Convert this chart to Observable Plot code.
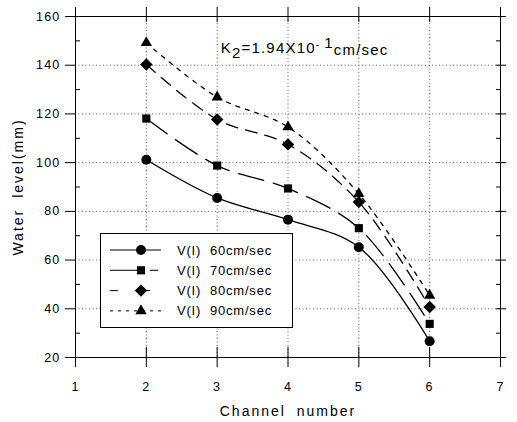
<!DOCTYPE html>
<html><head><meta charset="utf-8">
<script src="https://cdn.jsdelivr.net/npm/d3@7"></script>
<script src="https://cdn.jsdelivr.net/npm/@observablehq/plot@0.6"></script>
<style>
body{margin:0;background:#fff}
#wrap{position:relative;width:517px;height:422px;font-family:"Liberation Sans",Arial,sans-serif;color:#000}
#wrap svg text{letter-spacing:1.2px}
#legend{position:absolute;left:100px;top:233px;width:193px;height:95px;background:#fff;border:1px solid #000;box-sizing:border-box}
</style></head><body><div id="wrap"></div>
<script>
const channels = [2, 3, 4, 5, 6];
const v60 = [101.2, 85.5, 76.6, 65.3, 26.7];
const v70 = [118.1, 98.8, 89.4, 73.1, 33.8];
const v80 = [140.3, 117.7, 107.5, 83.8, 40.7];
const v90 = [149.2, 126.9, 114.6, 87.2, 45.5];
const seriesLabels = ["V(I)  60cm/sec", "V(I)  70cm/sec", "V(I)  80cm/sec", "V(I)  90cm/sec"];
const seriesValues = [v60, v70, v80, v90];
const seriesSymbols = ["circle", "square", "diamond2", "triangle"];
const seriesDash = [null, "26,10", "12,8", "4,6"];
const seriesR = [5, 4.6, 5.6, 4.2];
const xTicks = [1, 2, 3, 4, 5, 6, 7];
const yTicks = [20, 40, 60, 80, 100, 120, 140, 160];
const yMinor = [30, 50, 70, 90, 110, 130, 150];
const xGrid = [2, 3, 4, 5, 6];
const yGrid = [40, 60, 80, 100, 120, 140];
const annotation = "K2=1.94X10-1cm/sec";

const rows = [];
seriesLabels.forEach((s, i) => channels.forEach((c, j) => rows.push({series: s, channel: c, level: seriesValues[i][j]})));

const blank = () => "";
const marks = [
  Plot.ruleY(yGrid, {stroke: "#666", strokeDasharray: "1,2.5"}),
  Plot.ruleX(xGrid, {stroke: "#666", strokeDasharray: "1,2.5"}),
  Plot.frame({stroke: "#000"}),
  Plot.axisY({anchor: "left", ticks: yTicks, tickSize: 10, tickPadding: 5, fontSize: 12.5, tickFormat: d3.format("d"),
    label: "Water level(mm)", labelAnchor: "center", labelOffset: 62, labelArrow: "none"}),
  Plot.axisY({anchor: "left", ticks: yMinor, tickSize: -5, tickFormat: blank, label: null}),
  Plot.axisY({anchor: "right", ticks: yTicks, tickSize: 5, tickFormat: blank, label: null}),
  Plot.axisY({anchor: "right", ticks: yTicks, tickSize: -5, tickFormat: blank, label: null}),
  Plot.axisY({anchor: "right", ticks: yMinor, tickSize: -5, tickFormat: blank, label: null}),
  Plot.axisX({anchor: "bottom", ticks: xTicks, tickSize: 10, tickPadding: 15, fontSize: 12.5, tickFormat: d3.format("d"),
    label: "Channel number", labelAnchor: "center", labelOffset: 58, labelArrow: "none"}),
  Plot.axisX({anchor: "bottom", ticks: xTicks, tickSize: -10, tickFormat: blank, label: null}),
  Plot.axisX({anchor: "top", ticks: xTicks, tickSize: 10, tickFormat: blank, label: null}),
  Plot.axisX({anchor: "top", ticks: xTicks, tickSize: -5, tickFormat: blank, label: null}),
];
seriesLabels.forEach((s, i) => {
  const d = rows.filter(r => r.series === s);
  marks.push(Plot.line(d, {x: "channel", y: "level", curve: "catmull-rom", stroke: "#000", strokeWidth: 1.3,
    strokeDasharray: seriesDash[i] || undefined}));
  marks.push(Plot.dot(d, {x: "channel", y: "level", symbol: () => seriesSymbols[i], r: seriesR[i], fill: "#000", stroke: "none"}));
});
marks.push(Plot.text([annotation], {x: 3.05, y: 147, text: d => d, textAnchor: "start", fontSize: 15, className: "kann"}));

const chart = Plot.plot({
  width: 517, height: 422,
  marginLeft: 75, marginRight: 17, marginTop: 16, marginBottom: 65,
  x: {domain: [1, 7]},
  y: {domain: [20, 160]},
  style: {fontFamily: '"Liberation Sans", Arial, sans-serif', fontSize: "12.5px", color: "#000", background: "#fff"},
  marks
});
document.getElementById("wrap").appendChild(chart);

// subscripts / superscripts in annotation
d3.select(chart).selectAll("g.kann text, .kann text").each(function() {
  const t = d3.select(this);
  t.text(null);
  t.append("tspan").text("K");
  t.append("tspan").attr("dy", "0.35em").text("2");
  t.append("tspan").attr("dy", "-0.35em").text("=1.94X10");
  t.append("tspan").attr("dy", "-0.5em").attr("font-size", "10").text("- ");
  t.append("tspan").text("1");
  t.append("tspan").attr("dy", "0.5em").text("cm/sec");
});
d3.select(chart).selectAll('g[aria-label="x-axis label"] text, g[aria-label="y-axis label"] text')
  .style("letter-spacing", "2px").style("word-spacing", "5px").attr("font-size", 14);

// legend
const lg = d3.select("#wrap").append("div").attr("id", "legend");
const ls = lg.append("svg").attr("width", 191).attr("height", 93)
  .style("font-family", '"Liberation Sans", Arial, sans-serif');
const symMap = {circle: d3.symbolCircle, square: d3.symbolSquare, diamond2: d3.symbolDiamond2, triangle: d3.symbolTriangle};
seriesLabels.forEach((s, i) => {
  const y = 16 + i * 20.3;
  ls.append("line").attr("x1", 9).attr("x2", 60).attr("y1", y).attr("y2", y)
    .attr("stroke", "#000").attr("stroke-width", 1)
    .attr("stroke-dasharray", seriesDash[i] ? (i === 1 ? "27,13,8" : i === 2 ? "8,24" : "3,5") : null);
  ls.append("path").attr("transform", `translate(40,${y})`)
    .attr("d", d3.symbol(symMap[seriesSymbols[i]], Math.PI * seriesR[i] * seriesR[i])())
    .attr("fill", "#000");
  ls.append("text").attr("x", 76).attr("y", y).attr("dy", "0.35em").attr("font-size", 13)
    .style("letter-spacing", "0.8px").style("white-space", "pre").text(s);
});
</script></body></html>
